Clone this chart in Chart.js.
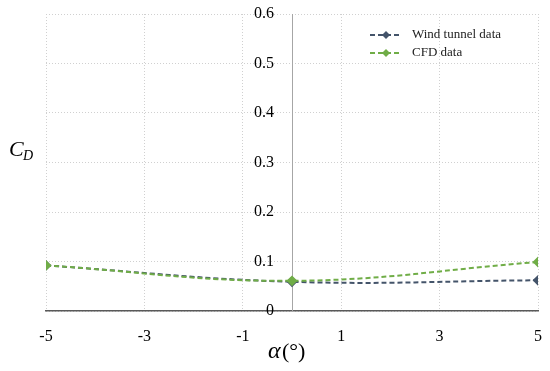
<!DOCTYPE html>
<html lang="en">
<head>
    <meta charset="UTF-8">
    <title>Drag coefficient vs angle of attack</title>
    <script src="https://cdn.jsdelivr.net/npm/chart.js"></script>
    <style>
        body { margin: 0; background: #fff; }
    </style>
</head>
<body>
    <canvas id="cdChart" width="550" height="371"></canvas>

    <script>
        // data
        const alphaDeg = [-5, 0, 5];
        const windTunnel = [0.092, 0.059, 0.062];
        const cfd = [0.092, 0.061, 0.099];
        const seriesNames = ['Wind tunnel data', 'CFD data'];
        const seriesColors = ['#44546A', '#70AD47'];
        const xTicks = [-5, -3, -1, 1, 3, 5];
        const yTicks = [0, 0.1, 0.2, 0.3, 0.4, 0.5, 0.6];

        const serif = '"Liberation Serif", "DejaVu Serif", serif';

        function toPoints(values) {
            return alphaDeg.map((a, i) => ({ x: a, y: values[i] }));
        }

        function makeSet(idx, values, order) {
            return {
                label: seriesNames[idx],
                data: toPoints(values),
                borderColor: seriesColors[idx],
                backgroundColor: seriesColors[idx],
                borderWidth: 2,
                borderDash: [5, 3],
                pointStyle: 'rectRot',
                pointRadius: 4,
                tension: 0.4,
                fill: false,
                order: order
            };
        }

        // axis titles and the legend box, drawn as text on the canvas
        const extras = {
            id: 'extras',
            afterDraw(chart) {
                const ctx = chart.ctx;
                const area = chart.chartArea;
                ctx.save();
                ctx.fillStyle = '#000';
                ctx.textBaseline = 'alphabetic';
                ctx.textAlign = 'left';

                // C_D
                ctx.font = 'italic 22px ' + serif;
                ctx.fillText('C', 9, 156);
                ctx.font = 'italic 14px ' + serif;
                ctx.fillText('D', 23, 160);

                // alpha (deg)
                ctx.font = 'italic 24px ' + serif;
                ctx.fillText('\u03B1', 268, 358);
                ctx.font = '22px ' + serif;
                ctx.fillText('(\u00B0)', 282, 358);

                // legend
                seriesNames.forEach((name, i) => {
                    const y = area.top + 21 + i * 18;
                    ctx.strokeStyle = seriesColors[i];
                    ctx.fillStyle = seriesColors[i];
                    ctx.lineWidth = 2;
                    ctx.setLineDash([5, 3]);
                    ctx.beginPath();
                    ctx.moveTo(370, y);
                    ctx.lineTo(402, y);
                    ctx.stroke();
                    ctx.setLineDash([]);
                    ctx.beginPath();
                    ctx.moveTo(386, y - 4);
                    ctx.lineTo(390, y);
                    ctx.lineTo(386, y + 4);
                    ctx.lineTo(382, y);
                    ctx.closePath();
                    ctx.fill();
                    ctx.fillStyle = '#222';
                    ctx.font = '13px ' + serif;
                    ctx.textBaseline = 'middle';
                    ctx.fillText(name, 412, y);
                    ctx.textBaseline = 'alphabetic';
                });
                ctx.restore();
            }
        };

        new Chart(document.getElementById('cdChart'), {
            type: 'line',
            data: {
                datasets: [
                    makeSet(0, windTunnel, 2),
                    makeSet(1, cfd, 1)
                ]
            },
            options: {
                responsive: false,
                animation: false,
                layout: { autoPadding: false, padding: { left: 46, right: 12, top: 14, bottom: 25 } },
                plugins: {
                    legend: { display: false },
                    tooltip: { enabled: false }
                },
                scales: {
                    x: {
                        type: 'linear',
                        min: -5,
                        max: 5,
                        afterBuildTicks: s => { s.ticks = xTicks.map(v => ({ value: v })); },
                        afterFit: s => {
                            s.height = 35;
                            s.paddingLeft = 0;
                            s.paddingRight = 0;
                        },
                        grid: {
                            color: '#D0D0D0',
                            drawTicks: false
                        },
                        border: { color: '#595959', width: 1.5, dash: [1, 2] },
                        ticks: {
                            padding: 16,
                            color: '#000',
                            font: { family: serif, size: 16 },
                            maxRotation: 0
                        }
                    },
                    y: {
                        type: 'linear',
                        min: 0,
                        max: 0.6,
                        position: 'center',
                        afterBuildTicks: s => { s.ticks = yTicks.map(v => ({ value: v })); },
                        afterFit: s => {
                            s.paddingTop = 0;
                            s.paddingBottom = 0;
                            s.paddingLeft = 0;
                            s.paddingRight = 0;
                        },
                        grid: {
                            color: '#D0D0D0',
                            drawTicks: false
                        },
                        border: { color: '#A6A6A6', width: 1, dash: [1, 2] },
                        ticks: {
                            padding: 18,
                            color: '#000',
                            font: { family: serif, size: 16 },
                            callback: v => String(Math.round(v * 10) / 10)
                        }
                    }
                }
            },
            plugins: [extras]
        });
    </script>
</body>
</html>
